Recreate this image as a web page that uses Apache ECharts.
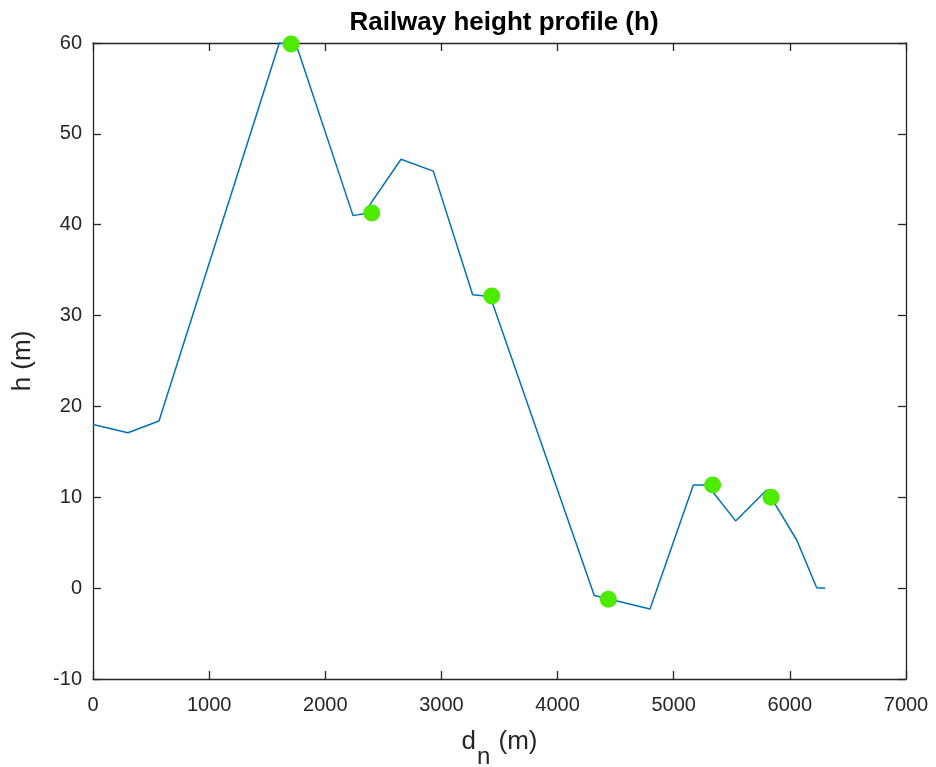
<!DOCTYPE html>
<html>
<head>
<meta charset="utf-8">
<script src="https://cdn.jsdelivr.net/npm/echarts@6/dist/echarts.min.js"></script>
<style>html,body{margin:0;padding:0;background:#fff}#c{width:936px;height:767px}</style>
</head>
<body>
<div id="c"></div>
<script>
const distance = [0, 301, 568, 1604, 1750, 2239, 2330, 2652, 2930, 3269, 3420, 4316, 4796, 5169, 5290, 5533, 5800, 6059, 6231, 6303];
const height   = [18.0, 17.1, 18.4, 60.0, 59.8, 41.0, 41.2, 47.2, 45.9, 32.3, 32.1, -0.8, -2.3, 11.35, 11.35, 7.4, 10.8, 5.3, 0.05, 0.0];
const markerDistance = [1705, 2400, 3433, 4437, 5335, 5838];
const markerHeight   = [59.9, 41.3, 32.15, -1.23, 11.35, 10.0];
const xTicks = [0, 1000, 2000, 3000, 4000, 5000, 6000, 7000];
const yTicks = [-10, 0, 10, 20, 30, 40, 50, 60];

const txt = '#262626';
const fontFam = 'Liberation Sans, Arial, Helvetica, sans-serif';
const chart = echarts.init(document.getElementById('c'), null, {renderer: 'canvas'});
const axisLine = {show: true, onZero: false, lineStyle: {color: txt, width: 1.3}};
const tick = {show: true, inside: true, length: 8, lineStyle: {color: txt, width: 1.3}};
const plain = v => String(v);
chart.setOption({
  animation: false,
  backgroundColor: '#fff',
  title: {
    text: 'Railway height profile (h)', left: 499, top: 5, textAlign: 'center',
    textStyle: {fontFamily: fontFam, fontWeight: 'bold', fontSize: 26, color: '#000'}
  },
  grid: {left: 93, top: 43, right: 30, bottom: 88, containLabel: false, outerBoundsMode: 'none'},
  xAxis: [{
    type: 'value', min: xTicks[0], max: xTicks[xTicks.length - 1], interval: 1000,
    position: 'bottom',
    axisLine, axisTick: tick, splitLine: {show: false},
    axisLabel: {color: txt, fontSize: 20, fontFamily: fontFam, margin: 16, formatter: plain},
    name: '{a|d}{sub|n}{a| (m)}', nameLocation: 'middle', nameGap: 50,
    nameTextStyle: {color: txt, fontSize: 26, fontFamily: fontFam,
      rich: {
        a: {fontSize: 26, color: txt, fontFamily: fontFam, verticalAlign: 'top', lineHeight: 28},
        sub: {fontSize: 24, color: txt, fontFamily: fontFam, verticalAlign: 'bottom', lineHeight: 40, padding: [0, 1, 0, 1]}
      }}
  }, {
    type: 'value', min: xTicks[0], max: xTicks[xTicks.length - 1], interval: 1000,
    position: 'top',
    axisLine, axisTick: tick, splitLine: {show: false}, axisLabel: {show: false}
  }],
  yAxis: [{
    type: 'value', min: yTicks[0], max: yTicks[yTicks.length - 1], interval: 10,
    position: 'left',
    axisLine, axisTick: tick, splitLine: {show: false},
    axisLabel: {color: txt, fontSize: 20, fontFamily: fontFam, margin: 11, formatter: plain},
    name: 'h (m)', nameLocation: 'middle', nameGap: 57, nameRotate: 90,
    nameTextStyle: {color: txt, fontSize: 26, fontFamily: fontFam}
  }, {
    type: 'value', min: yTicks[0], max: yTicks[yTicks.length - 1], interval: 10,
    position: 'right',
    axisLine, axisTick: tick, splitLine: {show: false}, axisLabel: {show: false}
  }],
  series: [{
    type: 'line',
    data: distance.map((d, i) => [d, height[i]]),
    showSymbol: false, symbol: 'none',
    lineStyle: {color: '#0072BD', width: 1.5},
    clip: false, z: 2
  }, {
    type: 'scatter',
    data: markerDistance.map((d, i) => [d, markerHeight[i]]),
    symbol: 'circle', symbolSize: 17,
    itemStyle: {color: '#4DEB00', opacity: 1},
    clip: false, z: 3
  }]
});
</script>
</body>
</html>
